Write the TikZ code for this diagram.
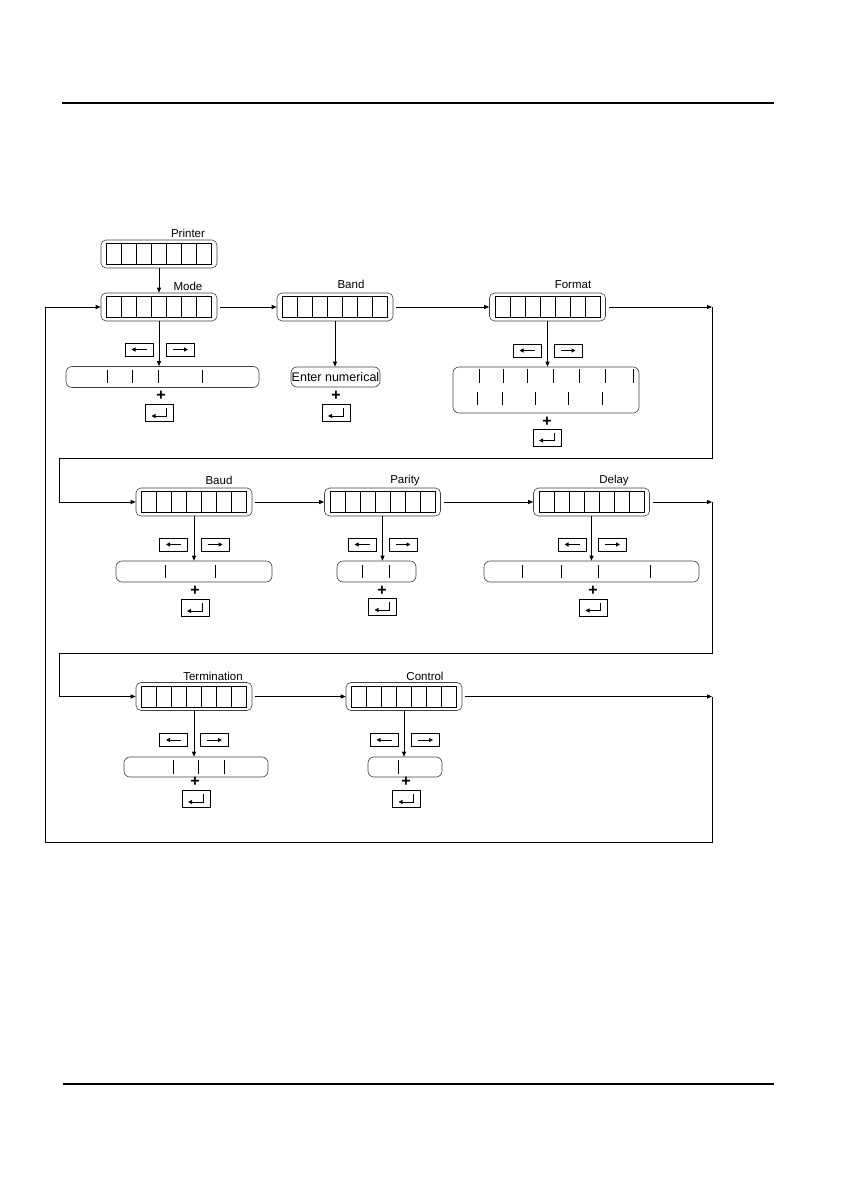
\documentclass[tikz,border=0pt]{standalone}
\usepackage{fontspec}
\setmainfont{Liberation Sans}
\usetikzlibrary{arrows.meta,positioning,calc}

\tikzset{
  flow/.style={-{Triangle[length=5pt,width=4pt]},line width=0.8pt},
  disp/.style={draw=black!75,line width=0.6pt,rounded corners=5pt,minimum width=116pt,minimum height=28pt,inner sep=0pt},
  cell/.style={draw,line width=0.8pt},
  optbox/.style={draw=black!75,line width=0.6pt,rounded corners=6pt,minimum height=21pt,inner sep=0pt},
  divider/.style={line width=0.8pt},
  keybox/.style={draw,line width=0.8pt,minimum width=28pt,minimum height=13pt,inner sep=0pt},
  enterbox/.style={draw,line width=0.8pt,minimum width=28pt,minimum height=17pt,inner sep=0pt},
  keyarr/.style={-{Triangle[length=4pt,width=4pt]},line width=1pt},
  lbl/.style={font=\fontsize{11.5}{12}\selectfont,inner sep=0pt},
  plus/.style={font=\fontsize{16}{16}\selectfont\bfseries,inner sep=0pt}
}

% display with seven cells
\newcommand{\lcd}[2]{%
  \node[disp] (#1) at (#2) {};
  \foreach \k in {0,...,6}
    \draw[cell] ($(#1.center)+(\k*15-52.5,-10.5)$) rectangle ++(15,21);
}
\newcommand{\keyl}[2]{%
  \node[keybox] (#1) at (#2) {};
  \draw[keyarr] ([xshift=7.5pt]#1.center) -- ([xshift=-7.5pt]#1.center);
}
\newcommand{\keyr}[2]{%
  \node[keybox] (#1) at (#2) {};
  \draw[keyarr] ([xshift=-7.5pt]#1.center) -- ([xshift=7.5pt]#1.center);
}
\newcommand{\keyenter}[2]{%
  \node[enterbox] (#1) at (#2) {};
  \draw[keyarr] ([xshift=7pt,yshift=5pt]#1.center) |- ([xshift=-8pt,yshift=-3pt]#1.center);
}

\begin{document}
\begin{tikzpicture}[x=1pt,y=-1pt]
  \useasboundingbox (0,0) rectangle (840,1190);
  \draw[line width=1.2pt] (62,103) -- (774,103);
  \draw[line width=1.2pt] (63,1084) -- (774,1084);

  % row 1
  \lcd{printer}{159,254}
  \node[lbl] (printerlbl) at (188,233) {Printer};
  \lcd{mode}{159,307}
  \node[lbl] (modelbl) at (188,286) {Mode};
  \lcd{band}{335,307}
  \node[lbl] (bandlbl) at (351,284) {Band};
  \lcd{format}{547.5,307}
  \node[lbl] (formatlbl) at (573,285) {Format};

  \keyl{modeL}{139,349.5}
  \keyr{modeR}{180.5,349.5}
  \node[optbox,minimum width=193pt] (modeopt) at (162.5,377) {};
  \foreach \x in {107,132,158,202} \draw[divider] (\x,370) -- (\x,383);
  \node[plus] (modeplus) at (161,396) {+};
  \keyenter{modeE}{159.5,413}

  \node[optbox,minimum width=89pt,minimum height=20pt,lbl,font=\fontsize{12.5}{13}\selectfont] (bandopt) at (335.5,377) {Enter numerical};
  \node[plus] (bandplus) at (336,396) {+};
  \keyenter{bandE}{336,413}

  \keyl{formatL}{527,350.5}
  \keyr{formatR}{568,350.5}
  \node[optbox,minimum width=186pt,minimum height=46pt] (formatopt) at (546,390) {};
  \foreach \x in {479,503,527,553,579,605,633} \draw[divider] (\x,369) -- (\x,383);
  \foreach \x in {477,502,535,568,602} \draw[divider] (\x,392) -- (\x,405);
  \node[plus] (formatplus) at (547,422) {+};
  \keyenter{formatE}{547,437.5}

  % row 2
  \lcd{baud}{194,502}
  \node[lbl] (baudlbl) at (219,480) {Baud};
  \lcd{parity}{382.5,502}
  \node[lbl] (paritylbl) at (405,481) {Parity};
  \lcd{delay}{591.5,502}
  \node[lbl] (delaylbl) at (614,481) {Delay};

  \keyl{baudL}{173.5,544.5}
  \keyr{baudR}{215,544.5}
  \node[optbox,minimum width=156pt] (baudopt) at (194,571.5) {};
  \foreach \x in {165,215} \draw[divider] (\x,565) -- (\x,578);
  \node[plus] (baudplus) at (195,591) {+};
  \keyenter{baudE}{195,608}

  \keyl{parityL}{362,544.5}
  \keyr{parityR}{403,544.5}
  \node[optbox,minimum width=79pt] (parityopt) at (376.5,571.5) {};
  \foreach \x in {362,389} \draw[divider] (\x,565) -- (\x,578);
  \node[plus] (parityplus) at (382,591) {+};
  \keyenter{parityE}{382.5,607}

  \keyl{delayL}{572,544.5}
  \keyr{delayR}{612.5,544.5}
  \node[optbox,minimum width=215pt] (delayopt) at (591.5,571.5) {};
  \foreach \x in {522,561,598,650} \draw[divider] (\x,565) -- (\x,578);
  \node[plus] (delayplus) at (593,591) {+};
  \keyenter{delayE}{593.5,607.5}

  % row 3
  \lcd{term}{194,696.5}
  \node[lbl] (termlbl) at (213,676) {Termination};
  \lcd{control}{404,696.5}
  \node[lbl] (controllbl) at (425,676) {Control};

  \keyl{termL}{173.5,740}
  \keyr{termR}{214.5,740}
  \node[optbox,minimum width=144pt,minimum height=20pt] (termopt) at (196,767) {};
  \foreach \x in {173,198,224} \draw[divider] (\x,760) -- (\x,774);
  \node[plus] (termplus) at (195,782) {+};
  \keyenter{termE}{196,799}

  \keyl{controlL}{384,740}
  \keyr{controlR}{425.5,740}
  \node[optbox,minimum width=74pt,minimum height=20pt] (controlopt) at (405,767) {};
  \draw[divider] (398,760) -- (398,774);
  \node[plus] (controlplus) at (406,782) {+};
  \keyenter{controlE}{406.5,799}

  % flow
  \coordinate (r1) at (712,307);
  \coordinate (w1) at (59,458);
  \coordinate (r2) at (712,502);
  \coordinate (w2) at (59,653);
  \coordinate (r3) at (712,696.5);
  \coordinate (w3) at (45,842);

  \draw[flow] (printer) -- (mode);
  \draw[flow] (mode.south) -- (mode.south |- modeopt.north);
  \draw[flow] (band.south) -- (band.south |- bandopt.north);
  \draw[flow] (format.south) -- (format.south |- formatopt.north);
  \draw[flow] (baud.south) -- (baud.south |- baudopt.north);
  \draw[flow] (parity.south) -- (parity.south |- parityopt.north);
  \draw[flow] (delay.south) -- (delay.south |- delayopt.north);
  \draw[flow] (term.south) -- (term.south |- termopt.north);
  \draw[flow] (control.south) -- (control.south |- controlopt.north);

  \draw[flow] ([xshift=3pt]mode.east) -- (band.west);
  \draw[flow] ([xshift=3pt]band.east) -- (format.west);
  \draw[flow] ([xshift=3pt]format.east) -- (r1);
  \draw[flow] (r1) |- (w1) |- (baud.west);
  \draw[flow] ([xshift=3pt]baud.east) -- (parity.west);
  \draw[flow] ([xshift=3pt]parity.east) -- (delay.west);
  \draw[flow] ([xshift=3pt]delay.east) -- (r2);
  \draw[flow] (r2) |- (w2) |- (term.west);
  \draw[flow] ([xshift=3pt]term.east) -- (control.west);
  \draw[flow] ([xshift=3pt]control.east) -- (r3);
  \draw[flow] (r3) |- (w3) |- (mode.west);
\end{tikzpicture}
\end{document}
